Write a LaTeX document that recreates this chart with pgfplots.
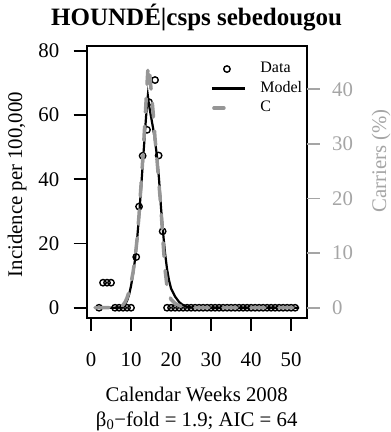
\documentclass[border=0pt]{standalone}
\usepackage{fontspec}
\setmainfont{Liberation Serif}
\usepackage{pgfplots}
\usepackage{pgfplotstable}
\pgfplotsset{compat=1.18}
\definecolor{cgray}{RGB}{150,150,150}
\definecolor{agray}{RGB}{165,165,165}
\pgfplotsset{
 legdata/.style={legend image code/.code={\path[draw=none] (0bp,0bp) -- (33bp,0bp); \draw[##1] plot[only marks, mark=o, mark size=3.2bp] coordinates {(15bp,0bp)};}},
 legline/.style={legend image code/.code={\draw[##1] (0bp,0bp) -- (33bp,0bp);}},
 leggray/.style={legend image code/.code={\draw[##1] (2bp,0bp) -- (33bp,0bp);}},
}

\pgfplotstableread{
x y
2 0
3 7.8
4 7.8
5 7.8
6 0
7 0
8 0
9 0
10 0
11.3 15.8
12 31.5
12.9 47.3
14 55.4
14.5 64
16 70.9
16.9 47.4
17.9 23.8
19 0
20 0
21 0
22 0
23 0
24 0
25 0
26 0
27 0
28 0
29 0
30 0
31 0
32 0
33 0
34 0
35 0
36 0
37 0
38 0
39 0
40 0
41 0
42 0
43 0
44 0
45 0
46 0
47 0
48 0
49 0
50 0
51 0
}\obsdata

\pgfplotstableread{
x y
1 0
6 0
7 0.05
7.5 0.15
8 0.4
8.5 1.0
9 2.2
9.5 4.0
10 6.8
10.5 10.5
11 15
11.5 21
12 28.5
12.5 37
13 46
13.5 55
13.9 62
14.2 66
14.5 63
15 59.5
15.5 56
16 52
16.5 47
17 40
17.5 31
18 23.5
18.5 17
19 12
19.5 8.5
20 6
21 3.5
22 1.8
23 0.8
24 0.3
25 0.1
26 0
52 0
}\modeldata

\pgfplotstableread{
x y
1 0
7 0
7.5 0.15
8 0.5
8.5 1.0
9 1.8
9.5 2.9
10 4.5
10.5 6.5
11 9
11.5 12.5
12 17
12.5 22.5
13 28
13.5 34.5
14 41
14.2 43.5
14.4 44.3
14.6 43.5
15 40
15.5 36
16 31
16.5 27
17 22.5
17.5 18
18 12
18.5 7
19 3.8
19.5 2.4
20 1.5
21 0.8
22 0.4
23 0.15
24 0
52 0
}\cdata

\begin{document}
\begin{tikzpicture}
\useasboundingbox (-86.7bp,-114.3bp) rectangle (304.3bp,317.7bp);
\begin{axis}[
 at={(0,0)}, anchor=south west,
 scale only axis, width=220bp, height=271.7bp,
 xmin=-1.08, xmax=53.9, ymin=-3.1, ymax=81.5,
 axis line style={line width=1.8bp},
 tick style={line width=1.6bp, black},
 tick align=outside, major tick length=13bp,
 tick pos=left,
 xtick={0,10,...,50}, ytick={0,20,...,80},
 minor tick num=0,
 font=\fontsize{20.8bp}{24bp}\selectfont,
 /pgf/number format/assume math mode=true,
 xticklabel style={anchor=base, yshift=-36bp},
 yticklabel style={anchor=east, xshift=-11bp},
 title={\bfseries HOUNDÉ|csps sebedougou},
 title style={font=\fontsize{25bp}{30bp}\selectfont, at={(axis description cs:0.5,1)}, anchor=base, yshift=14.3bp},
 xlabel={Calendar Weeks 2008\\β\textsubscript{0}−fold = 1.9; AIC = 64},
 xlabel style={align=center, at={(axis description cs:0.5,0)}, anchor=north, yshift=-66bp, font=\fontsize{20.8bp}{24.5bp}\selectfont},
 ylabel={Incidence per 100,000},
 ylabel style={at={(axis description cs:-0.316,0.49)}, anchor=center, rotate=0},
 legend style={draw=none, fill=none, at={(axis description cs:0.5605,0.9435)}, anchor=north west,
   font=\fontsize{16bp}{19bp}\selectfont, inner sep=0pt, column sep=13.7bp, row sep=4.5bp,
   nodes={inner sep=0pt, text height=11bp, text depth=4bp}},
 legend cell align=left,
]
\addplot[only marks, mark=o, mark size=3.2bp, line width=1.4bp, black, forget plot] table[x=x,y=y] {\obsdata};
\addplot[black, line width=2.2bp, forget plot] table[x=x,y=y] {\modeldata};
\addlegendimage{black, line width=1.4bp, legdata}
\addlegendentry{Data}
\addlegendimage{black, line width=3.5bp, legline}
\addlegendentry{Model}
\addlegendimage{cgray, line width=3.5bp, line cap=round, dash pattern=on 10bp off 30bp, leggray}
\addlegendentry{C}
\end{axis}
\begin{axis}[
 at={(0,0)}, anchor=south west,
 scale only axis, width=220bp, height=271.7bp,
 xmin=-1.08, xmax=53.9, ymin=-1.83, ymax=47.93,
 axis x line=none, axis y line*=right,
 axis line style={draw=none},
 ytick={0,10,...,40},
 tick align=outside, major tick length=13bp,
 ytick style={agray, line width=1.6bp},
 yticklabel style={agray, anchor=west, xshift=9bp},
 font=\fontsize{20.8bp}{24bp}\selectfont,
 /pgf/number format/assume math mode=true,
 ylabel={Carriers (\%)},
 ylabel style={agray, at={(axis description cs:1.338,0.577)}, anchor=center, rotate=0},
]
\addplot[cgray, line width=3.5bp, line cap=round, dash pattern=on 14bp off 14bp] table[x=x,y=y] {\cdata};
\end{axis}
\end{tikzpicture}
\end{document}
